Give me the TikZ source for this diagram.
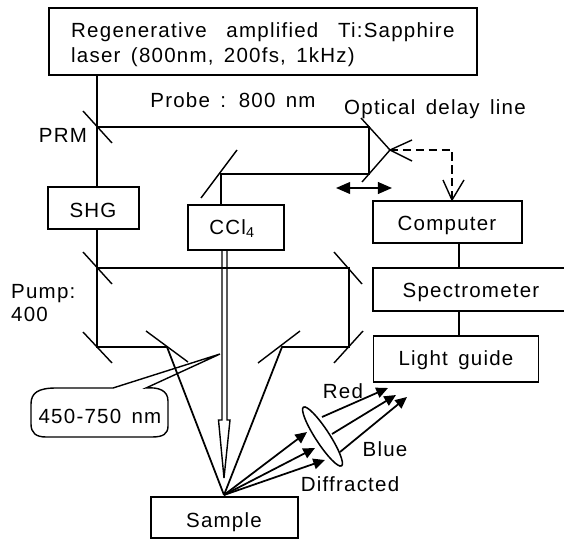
\documentclass[tikz,border=0pt]{standalone}
\usepackage{fontspec}
\setmainfont[LetterSpace=6,WordSpace=1.5]{Liberation Sans}
\usetikzlibrary{arrows.meta}
\tikzset{
  beam/.style={line width=1.5pt},
  mirror/.style={line width=1.2pt},
  unit/.style={draw,line width=1.5pt,minimum height=0.03cm*42,inner sep=0pt},
  tag/.style={inner sep=0pt,anchor=base,font=\fontsize{17.5}{22}\selectfont},
  solidtip/.style={-{Triangle[length=10pt,width=9pt]}},
}
\begin{document}
\begin{tikzpicture}[x=0.03cm,y=-0.03cm]
\useasboundingbox (0,0) rectangle (564,539);
% Boxes:
\node (laser) [unit,minimum width=0.03cm*428,minimum height=0.03cm*67] at (263,41.5) {};
\node (laserA) [tag,anchor=base west] at (71,38) {Regenerative\hspace{8pt} amplified\hspace{8pt} Ti:Sapphire};
\node (laserB) [tag,anchor=base west] at (71,63) {laser (800nm, 200fs, 1kHz)};
\node (shg) [unit,minimum width=0.03cm*91] at (93.5,208) {};
\node (shgtext) [tag] at (93,217) {SHG};
\node (ccl) [unit,minimum width=0.03cm*96,minimum height=0.03cm*45] at (236,227.5) {};
\node (ccltext) [tag] at (232,234) {CCl\textsubscript{4}};
\node (computer) [unit,minimum width=0.03cm*149] at (447.5,222) {};
\node (comptext) [tag] at (447,230) {Computer};
\node (spec) [unit,minimum width=0.03cm*197,minimum height=0.03cm*43] at (471.5,289.5) {};
\node (spectext) [tag] at (471,297) {Spectrometer};
\node (guide) [unit,minimum width=0.03cm*165,minimum height=0.03cm*46] at (456,359) {};
\node (guidetext) [tag] at (456,365) {Light guide};
\node (sample) [unit,minimum width=0.03cm*147,minimum height=0.03cm*41] at (224.5,517.5) {};
\node (sampletext) [tag] at (224,527) {Sample};
% Labels:
\node (probe) [tag] at (233,108) {Probe : 800 nm};
\node (delay) [tag] at (435,115) {Optical delay line};
\node (prm) [tag] at (63,143) {PRM};
\node (pumptext) [tag,anchor=base west] at (11,298) {Pump:};
\node (pumpval) [tag,anchor=base west] at (11,321) {400};
\node (red) [tag] at (343,398) {Red};
\node (blue) [tag] at (385,456) {Blue};
\node (diffr) [tag] at (350,491) {Diffracted};
\node (range) [tag] at (100,423) {450-750 nm};
% Beam points:
\coordinate (prmhit) at (97,127);
\coordinate (retroA) at (369,127);
\coordinate (retroB) at (369,174);
\coordinate (retroC) at (390,150);
\coordinate (fold) at (221,174);
\coordinate (pumpA) at (97,268);
\coordinate (pumpB) at (97,347);
\coordinate (pumpC) at (167,347);
\coordinate (pumpD) at (349,268);
\coordinate (pumpE) at (349,347);
\coordinate (pumpF) at (282,347);
\coordinate (hit) at (224,495);
% Beams:
\draw[beam] (97,75) -- (prmhit) -- (97,187);
\draw[beam] (prmhit) -- (retroA) -- (retroB) -- (fold) -- (221,205);
\draw[beam] (97,229) -- (pumpA) -- (pumpB) -- (pumpC) -- (hit);
\draw[beam] (pumpA) -- (pumpD) -- (pumpE) -- (pumpF) -- (hit);
\draw[beam] (459,243) -- (459,268);
\draw[beam] (459,311) -- (459,336);
% Mirrors:
\draw[mirror] (83,111) -- (112,143);
\draw[mirror] (237,150) -- (201,198);
\draw[mirror] (361,118) -- (retroC) -- (362,182);
\draw[mirror] (83,252) -- (112,284);
\draw[mirror] (334,252) -- (362,284);
\draw[mirror] (83,332) -- (112,363);
\draw[mirror] (146,331) -- (188,362);
\draw[mirror] (258,363) -- (300,331);
\draw[mirror] (334,363) -- (363,331);
% Delay line:
\draw[mirror] (412,140) -- (retroC) -- (412,161);
\draw[beam,dash pattern=on 7pt off 4pt] (retroC) -- (452,150) -- (452,200);
\draw[mirror] (443,180) -- (452,200) -- (464,180);
\draw[beam,{Triangle[length=12pt,width=10pt]}-{Triangle[length=12pt,width=10pt]}] (336,188) -- (392,188);
% Probe arrow:
\draw[line width=1.2pt] (222,250) -- (222,420) -- (218.5,420) -- (224,478) -- (230,420) -- (227,420) -- (227,250);
% Callout:
\draw[line width=1.2pt] (113,388) -- (220,354) -- (146,388) .. controls (158,387) and (168,390) .. (168,401)
  -- (168,426) .. controls (168,434) and (163,437) .. (152,437) -- (46,437)
  .. controls (36,437) and (31,433) .. (31,424) -- (31,404) .. controls (31,393) and (38,388) .. (56,388) -- cycle;
% Diffracted rays:
\draw[beam,solidtip] (hit) -- (307,432);
\draw[beam,solidtip] (hit) -- (315,448);
\draw[beam,solidtip] (hit) -- (325,460);
\draw[line width=1.3pt] (322.5,436.5) ellipse [x radius=0.03cm*35,y radius=0.03cm*7,rotate=-57];
\draw[beam,solidtip] (322,417) -- (388,388);
\draw[beam,solidtip] (332,434) -- (396,395);
\draw[beam,solidtip] (340,452) -- (407,397);
\end{tikzpicture}
\end{document}
